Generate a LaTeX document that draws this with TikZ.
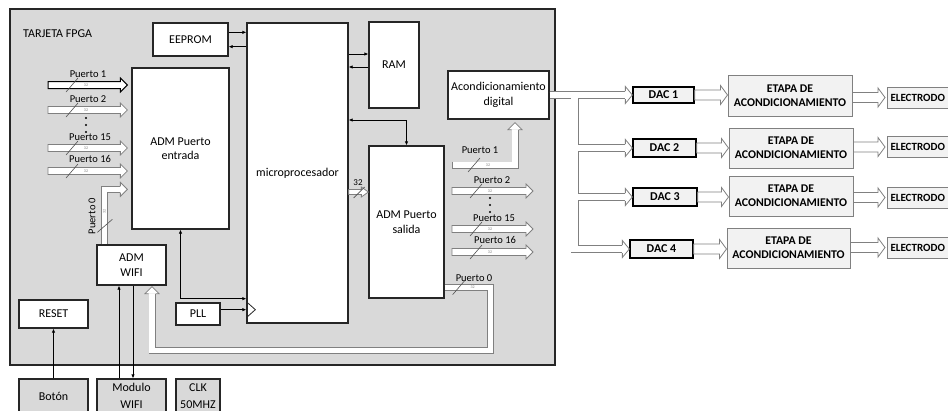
\documentclass[tikz,border=0pt]{standalone}
\usepackage{fontspec}
\setmainfont{Carlito}
\usetikzlibrary{calc,arrows.meta}
\definecolor{fpgagray}{HTML}{D9D9D9}
\definecolor{lightbox}{HTML}{F2F2F2}
\definecolor{busgray}{HTML}{808080}
\definecolor{edge}{HTML}{262626}
% horizontal hollow bus arrow: style, start, tip, half body, half head
\newcommand\hbus[5]{\draw[#1] ($#2+(0,-#4)$) -- ($#3+(-7,-#4)$) -- ($#3+(-7,-#5)$) -- #3 -- ($#3+(-7,#5)$) -- ($#3+(-7,#4)$) -- ($#2+(0,#4)$) -- cycle;}
% hollow bus shaft along any path: width, path
\newcommand\busline[2]{\draw[busgray, line width=#1pt] #2; \draw[white, line width=#1pt-1.6pt] #2;}
% slash mark and tiny width label on a horizontal bus: coordinate, x offset, name
\newcommand\busmark[3]{\draw[slash] ($#1+(#2-6,7)$) -- ($#1+(#2+6,-7)$); \node[bw] (#3) at ($#1+(#2+14,0)$) {32};}
\tikzset{
  box/.style={draw=edge, line width=1.3pt, fill=white, align=center, inner sep=0pt, font=\fontsize{12}{14.5}\selectfont},
  extbox/.style={box, fill=fpgagray, font=\fontsize{12}{17}\selectfont},
  dacbox/.style={draw=black, line width=1.3pt, fill=lightbox, inner sep=0pt, font=\bfseries\fontsize{12}{13}\selectfont},
  etapabox/.style={draw=busgray, line width=1pt, fill=lightbox, align=center, inner sep=0pt, font=\bfseries\fontsize{11.8}{14}\selectfont},
  elbox/.style={draw=busgray, line width=1pt, fill=lightbox, anchor=west, align=left, inner xsep=3pt, inner ysep=0pt, text width=69pt, minimum height=21, font=\bfseries\fontsize{11}{13}\selectfont},
  conn/.style={draw=black, line width=1pt, -{Latex[length=4pt,width=3.5pt]}},
  bconn/.style={draw=black, line width=1pt, {Latex[length=4pt,width=3.5pt]}-{Latex[length=4pt,width=3.5pt]}},
  bus/.style={draw=busgray, line width=0.8pt, fill=white, line join=miter},
  busdark/.style={bus, draw=black, line width=1pt},
  lbl/.style={font=\fontsize{10.5}{12}\selectfont, inner sep=0pt},
  bw/.style={font=\fontsize{4}{4}\selectfont, text=busgray, inner sep=0pt},
  slash/.style={draw=edge!80, line width=0.6pt},
  smallhead/.pic={\draw[bus] (-7,-3.5) -- (-7,-7) -- (0,0) -- (-7,7) -- (-7,3.5);},
  bighead/.pic={\draw[bus] (-7,-4) -- (-7,-8.5) -- (0,0) -- (-7,8.5) -- (-7,4);},
}
\begin{document}
\begin{tikzpicture}[x=1pt,y=-1pt]
\path[use as bounding box] (0,0) rectangle (948,410);
\fill[white] (0,0) rectangle (948,410);
\clip (0,0) rectangle (948,410);

% FPGA board
\node[draw=edge, line width=1.3pt, fill=fpgagray, minimum width=545, minimum height=356, inner sep=0pt] (fpga) at (282.5,187) {};
\node[lbl, anchor=west, font=\fontsize{12}{13}\selectfont] (title) at (23,34) {TARJETA FPGA};

% blocks
\node[box, minimum width=75, minimum height=33] (eeprom) at (190.5,39.5) {EEPROM};
\node[box, minimum width=101, minimum height=300] (micro) at (297.5,173) {microprocesador};
\node[box, minimum width=50, minimum height=86] (ram) at (394,65) {RAM};
\node[box, minimum width=101, minimum height=48] (acond) at (498.5,95) {Acondicionamiento\\digital};
\node[box, minimum width=75, minimum height=152] (salida) at (406.5,222) {ADM Puerto\\salida};
\node[box, minimum width=97, minimum height=161] (entrada) at (180.5,148.5) {ADM Puerto\\entrada};
\node[box, minimum width=69, minimum height=40] (wifi) at (131.5,265) {ADM\\WIFI};
\node[box, minimum width=69, minimum height=28] (reset) at (53.5,314) {RESET};
\node[box, minimum width=44, minimum height=22] (pll) at (198,314) {PLL};
\node[extbox, minimum width=69, minimum height=34] (boton) at (53.5,396) {Botón};
\node[extbox, minimum width=69, minimum height=34] (modulo) at (131.5,396) {Modulo\\WIFI};
\node[extbox, minimum width=44, minimum height=34] (clk) at (198,396) {CLK\\50MHZ};

% DAC chain
\node[dacbox, minimum width=61, minimum height=16] (dac1) at (663.5,95) {DAC 1};
\node[dacbox, minimum width=63, minimum height=18] (dac2) at (664.5,148) {DAC 2};
\node[dacbox, minimum width=64, minimum height=18] (dac3) at (665,197) {DAC 3};
\node[dacbox, minimum width=63, minimum height=18] (dac4) at (661.5,249) {DAC 4};
\node[etapabox, minimum width=124, minimum height=41] (et1) at (790,95.5) {ETAPA DE\\ACONDICIONAMIENTO};
\node[etapabox, minimum width=124, minimum height=40] (et2) at (791,148) {ETAPA DE\\ACONDICIONAMIENTO};
\node[etapabox, minimum width=124, minimum height=40] (et3) at (791,196) {ETAPA DE\\ACONDICIONAMIENTO};
\node[etapabox, minimum width=123, minimum height=40] (et4) at (788.5,248) {ETAPA DE\\ACONDICIONAMIENTO};
\node[elbox] (el1) at (887,97.5) {ELECTRODO};
\node[elbox] (el2) at (887,147) {ELECTRODO};
\node[elbox] (el3) at (887,197.5) {ELECTRODO};
\node[elbox] (el4) at (887,247.5) {ELECTRODO};

% thin connectors
\coordinate (ee1) at ($(eeprom.north east)+(0,10)$);
\coordinate (ee2) at ($(eeprom.south east)+(0,-10)$);
\draw[conn] (ee1) -- (ee1 -| micro.west);
\draw[conn] (ee2 -| micro.west) -- (ee2);
\coordinate (r1) at ($(ram.west)+(0,-11)$);
\coordinate (r2) at ($(ram.west)+(0,2)$);
\draw[conn] (r1 -| micro.east) -- (r1);
\draw[conn] (r2) -- (r2 -| micro.east);
\coordinate (ms) at ($(micro.east)+(0,-53)$);
\draw[bconn] (ms) -| (salida.north);
\coordinate (pl) at ($(micro.south west)+(0,-25)$);
\draw[bconn] (entrada.south) |- (pl);
\coordinate (ck) at ($(micro.south west)+(0,-14)$);
\draw[conn] (ck -| pll.east) -- (ck);
\draw[draw=edge, line width=0.8pt] ($(ck)+(0,-8)$) -- ($(ck)+(9,0)$) -- ($(ck)+(0,8)$);
\draw[conn] (boton.north) -- (reset.south);
\coordinate (mw1) at ($(wifi.south)+(-12.5,0)$);
\coordinate (mw2) at ($(wifi.south)+(1.5,0)$);
\draw[conn] (mw1 |- modulo.north) -- (mw1);
\draw[conn] (mw2) -- (mw2 |- modulo.north);

% input buses
\coordinate (i1) at (48,85);
\coordinate (i2) at (48,110);
\coordinate (i15) at (48,148);
\coordinate (i16) at (48,171);
\path (entrada.west |- i1) ++(-4,0) coordinate (i1e);
\path (entrada.west |- i2) ++(-4,0) coordinate (i2e);
\path (entrada.west |- i15) ++(-4,0) coordinate (i15e);
\path (entrada.west |- i16) ++(-4,0) coordinate (i16e);
\hbus{busdark}{(i1)}{(i1e)}{3.5}{7}
\hbus{bus}{(i2)}{(i2e)}{3.5}{7}
\hbus{bus}{(i15)}{(i15e)}{3.5}{7}
\hbus{bus}{(i16)}{(i16e)}{3.5}{7}
\busmark{(i1)}{24}{w1}
\busmark{(i2)}{24}{w2}
\busmark{(i15)}{24}{w15}
\busmark{(i16)}{24}{w16}
\node[lbl] (lp1) at (88,74) {Puerto 1};
\node[lbl] (lp2) at (88,99) {Puerto 2};
\node[lbl] (lp15) at (90,137) {Puerto 15};
\node[lbl] (lp16) at (90,159) {Puerto 16};
\fill[black] (86,118) circle (1.2) (86,125) circle (1.2) (86,132) circle (1.2);

% Puerto 0 (ADM WIFI -> ADM Puerto entrada)
\coordinate (w0) at ($(wifi.north west)+(8,0)$);
\coordinate (w0t) at ($(w0)+(0,-55)$);
\busline{7}{(w0) -- (w0t) -- ($(w0t)+(16.5,0)$)}
\pic at ($(w0t)+(23,0)$) {smallhead};
\draw[slash] ($(w0)+(-7,-12)$) -- ($(w0)+(8,-25)$);
\node[bw, rotate=90] (w0n) at ($(w0)+(0,-33)$) {32};
\node[lbl, rotate=90] (lp0) at (92,216) {Puerto 0};

% micro -> ADM Puerto salida
\coordinate (m32) at ($(micro.east)+(0,19)$);
\path (m32 -| salida.west) coordinate (m32e);
\hbus{bus}{(m32)}{(m32e)}{2.5}{5}
\draw[slash] ($(m32)+(5,6)$) -- ($(m32)+(16,-5)$);
\node[lbl, font=\fontsize{9}{10}\selectfont] (l32) at (358,183) {32};

% output buses
\coordinate (o1) at (452,165);
\coordinate (o2) at (452,191);
\coordinate (o15) at (452,229);
\coordinate (o16) at (452,252);
\coordinate (o2e) at ($(o2)+(81,0)$);
\coordinate (o15e) at ($(o15)+(81,0)$);
\coordinate (o16e) at ($(o16)+(81,0)$);
\coordinate (o1c) at ($(acond.south)+(16.5,3)$);
\path (o1 -| o1c) coordinate (o1k);
\busline{7}{(o1) -- (o1k) -- ($(o1c)+(0,7)$)}
\draw[busgray, line width=0.8pt] ($(o1)+(0,-3.5)$) -- ($(o1)+(0,3.5)$);
\pic[rotate=90] at (o1c) {smallhead};
\hbus{bus}{(o2)}{(o2e)}{3.5}{7}
\hbus{bus}{(o15)}{(o15e)}{3.5}{7}
\hbus{bus}{(o16)}{(o16e)}{3.5}{7}
\busmark{(o1)}{22}{v1}
\busmark{(o2)}{24}{v2}
\busmark{(o15)}{24}{v15}
\busmark{(o16)}{24}{v16}
\node[lbl] (lq1) at (480,150) {Puerto 1};
\node[lbl] (lq2) at (492,180) {Puerto 2};
\node[lbl] (lq15) at (494,218) {Puerto 15};
\node[lbl] (lq16) at (495,240) {Puerto 16};
\fill[black] (490,198) circle (1.2) (490,205) circle (1.2) (490,212) circle (1.2);

% Puerto 0 loop (ADM Puerto salida -> ADM WIFI)
\coordinate (s0) at ($(salida.south east)+(0,-11)$);
\coordinate (lpa) at ($(s0)+(46,0)$);
\coordinate (lpb) at ($(lpa)+(0,63)$);
\coordinate (wh) at ($(wifi.south)+(20.5,1)$);
\busline{7}{(s0) -- (lpa) -- (lpb) -- (lpb -| wh) -- ($(wh)+(0,7)$)}
\pic[rotate=90] at (wh) {smallhead};
\busmark{(s0)}{14}{v0}
\node[lbl] (lq0) at (474,278) {Puerto 0};

% Acondicionamiento digital -> DACs
\coordinate (t0) at ($(acond.east)+(25,0)$);
\coordinate (a1) at ($(dac1.west)+(-7,0)$);
\coordinate (a2) at ($(dac2.west)+(-7,0)$);
\coordinate (a3) at ($(dac3.west)+(-7,0)$);
\coordinate (a4) at ($(dac4.west)+(-7,0)$);
\busline{8}{(acond.east) -- (a1) (t0) |- (a4) (t0 |- a2) -- (a2) (t0 |- a3) -- (a3)}
\pic at (dac1.west) {bighead};
\pic at (dac2.west) {bighead};
\pic at (dac3.west) {bighead};
\pic at (dac4.west) {bighead};

% DAC -> ETAPA -> ELECTRODO
\path (et1.west |- dac1.east) coordinate (d1e);
\path (et2.west |- dac2.east) coordinate (d2e);
\path (et3.west |- dac3.east) coordinate (d3e);
\path (et4.west |- dac4.east) coordinate (d4e);
\hbus{bus}{(dac1.east)}{(d1e)}{5}{9.5}
\hbus{bus}{(dac2.east)}{(d2e)}{5}{9.5}
\hbus{bus}{(dac3.east)}{(d3e)}{5}{9.5}
\hbus{bus}{(dac4.east)}{(d4e)}{5}{9.5}
\path (el1.west) ++(-2,0) coordinate (l1e);
\path (el2.west) ++(-2,0) coordinate (l2e);
\path (el3.west) ++(-2,0) coordinate (l3e);
\path (el4.west) ++(-2,0) coordinate (l4e);
\path (et1.east |- l1e) coordinate (l1s);
\path (et2.east |- l2e) coordinate (l2s);
\path (et3.east |- l3e) coordinate (l3s);
\path (et4.east |- l4e) coordinate (l4s);
\hbus{bus}{(l1s)}{(l1e)}{5}{9.5}
\hbus{bus}{(l2s)}{(l2e)}{5}{9.5}
\hbus{bus}{(l3s)}{(l3e)}{5}{9.5}
\hbus{bus}{(l4s)}{(l4e)}{5}{9.5}
\end{tikzpicture}
\end{document}
